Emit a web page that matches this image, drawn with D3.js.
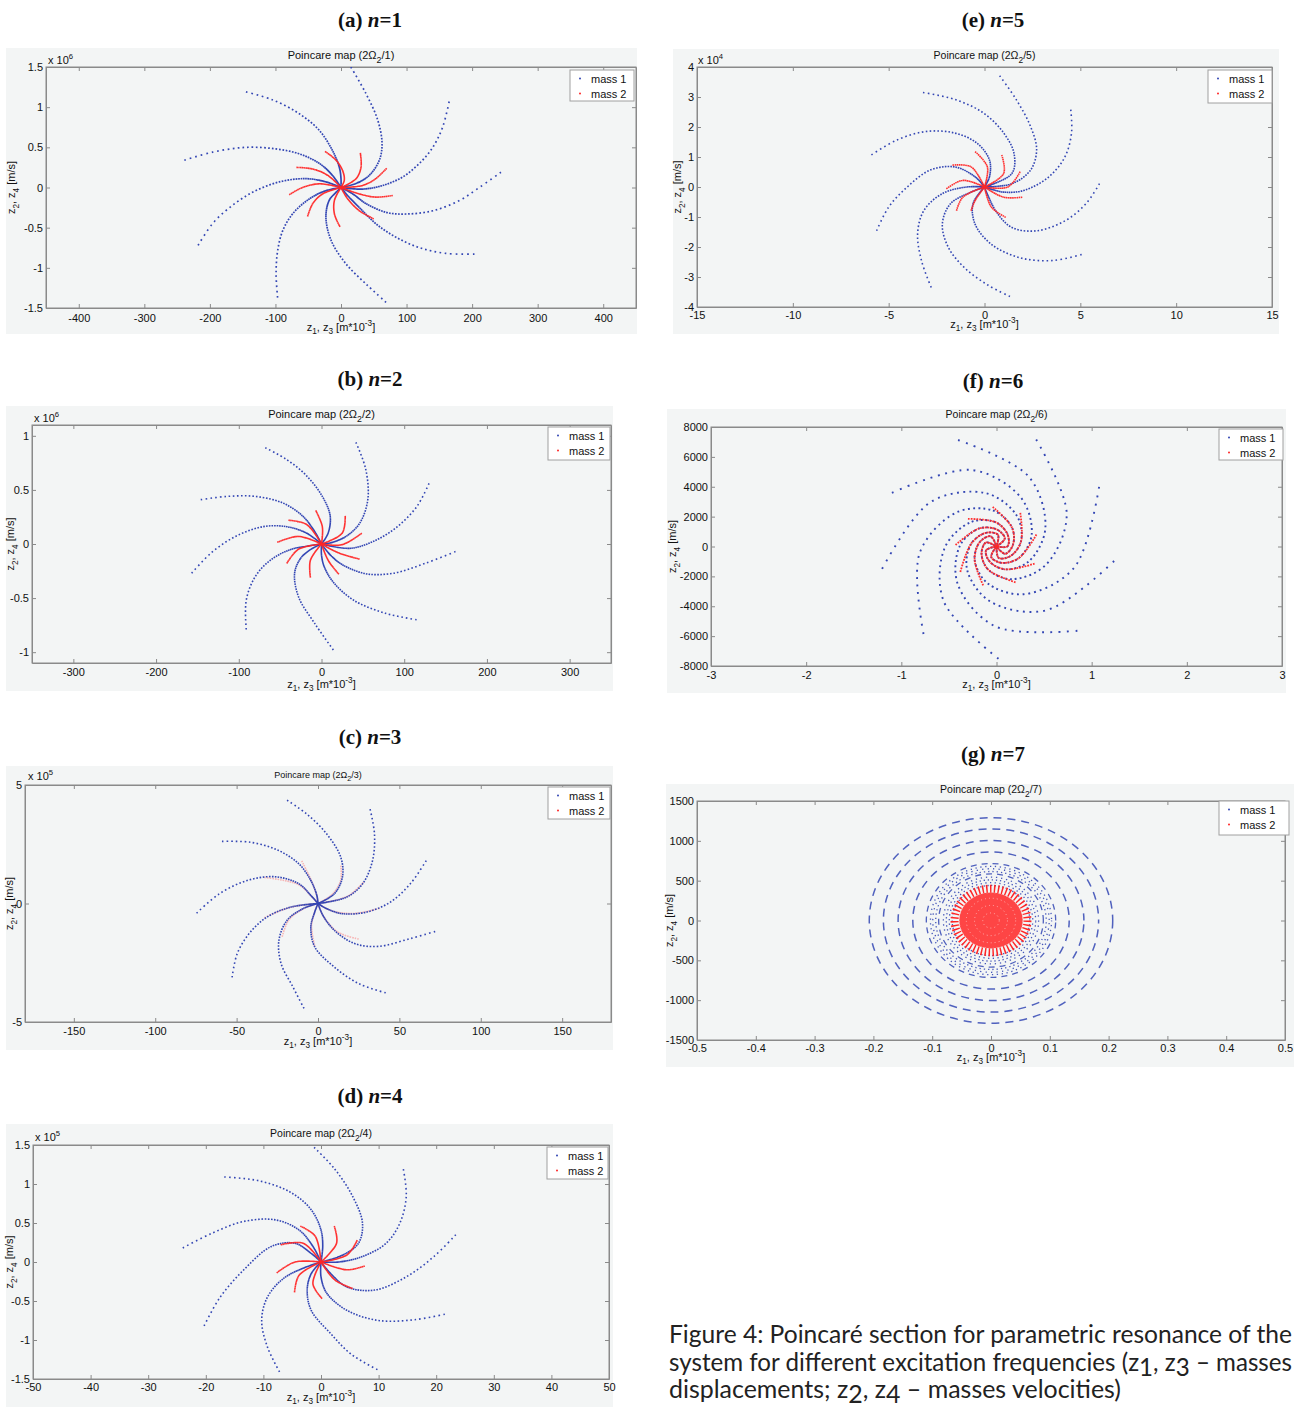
<!DOCTYPE html>
<html>
<head>
<meta charset="utf-8">
<script src="https://cdn.jsdelivr.net/npm/d3@7"></script>
<style>
body { margin: 0; background: #fff; }
</style>
</head>
<body>
<div id="chart"></div>
<script>
// ---- data (x in m*10^-3, y in m/s times the axis multiplier) ----
var legendNames = ["mass 1", "mass 2"];

// (a) n=1, y x 10^6
var ticksA_x = [-400, -300, -200, -100, 0, 100, 200, 300, 400];
var ticksA_y = [-1.5, -1, -0.5, 0, 0.5, 1, 1.5];
var armsA_mass1 = [
  [[15, 1.5], [38, 1.17], [56, 0.84], [62.6, 0.55], [58.5, 0.34], [43, 0.15], [23, 0.05], [0, 0]],
  [[165, 1.07], [155, 0.75], [140, 0.5], [119.6, 0.3], [94, 0.13], [63.6, 0.025], [33, -0.02], [0, 0]],
  [[244, 0.19], [211, 0], [181, -0.16], [140, -0.29], [99, -0.33], [69, -0.31], [38, -0.2], [18, -0.08], [0, 0]],
  [[203.6, -0.83], [160, -0.82], [120, -0.75], [84, -0.62], [53, -0.45], [28, -0.25], [10, -0.1], [0, 0]],
  [[68.7, -1.43], [38, -1.2], [7.6, -0.95], [-15, -0.66], [-23, -0.37], [-18, -0.16], [-7.6, -0.06], [0, 0]],
  [[-96.7, -1.37], [-99, -1.08], [-96.7, -0.79], [-89, -0.54], [-74, -0.33], [-48, -0.14], [-23, -0.04], [0, 0]],
  [[-218, -0.72], [-196, -0.45], [-170, -0.25], [-135, -0.06], [-94, 0.07], [-53, 0.11], [-23, 0.07], [0, 0]],
  [[-239, 0.34], [-196, 0.44], [-145, 0.5], [-99, 0.48], [-64, 0.42], [-33, 0.3], [-13, 0.15], [0, 0]],
  [[-145, 1.19], [-104, 1.09], [-64, 0.92], [-33, 0.71], [-13, 0.46], [-2.5, 0.25], [0, 0.11], [0, 0]]
];
var armsA_mass2 = [
  [[-24.4, 0.45], [-7.6, 0.34], [2.5, 0.21], [5, 0.09], [0, 0]],
  [[29.5, 0.43], [30.5, 0.25], [23, 0.11], [0, 0]],
  [[69.7, 0.24], [53, 0.11], [33, 0.025], [0, 0]],
  [[79, -0.1], [53, -0.12], [28, -0.08], [0, 0]],
  [[50, -0.39], [28, -0.29], [10, -0.14], [0, 0]],
  [[-1.5, -0.49], [-10, -0.33], [-10, -0.16], [0, 0]],
  [[-51, -0.36], [-43, -0.2], [-28, -0.08], [0, 0]],
  [[-79, -0.09], [-58.5, 0], [-33, 0.046], [0, 0]],
  [[-68, 0.25], [-43, 0.23], [-20, 0.15], [0, 0]]
];

// (b) n=2, y x 10^6
var ticksB_x = [-300, -200, -100, 0, 100, 200, 300];
var ticksB_y = [-1, -0.5, 0, 0.5, 1];
var armsB_mass1 = [
  [[41.6, 0.94], [53.5, 0.69], [56, 0.41], [46, 0.19], [29.6, 0.07], [13, 0.015], [0, 0]],
  [[130, 0.56], [115.6, 0.35], [91.7, 0.16], [63, 0.025], [34, -0.04], [0, 0]],
  [[162, -0.07], [125, -0.18], [87, -0.27], [53.5, -0.275], [25, -0.19], [10.5, -0.1], [0, 0]],
  [[115, -0.7], [77, -0.64], [39, -0.52], [15, -0.36], [3.3, -0.21], [0, -0.1], [0, 0]],
  [[14.3, -0.98], [-8.6, -0.73], [-27.7, -0.49], [-32.5, -0.27], [-25, -0.13], [-13, -0.05], [0, 0]],
  [[-91, -0.79], [-91, -0.52], [-80, -0.3], [-61, -0.145], [-37, -0.05], [-18, -0.02], [0, 0]],
  [[-157, -0.27], [-133, -0.08], [-104, 0.07], [-71, 0.16], [-42, 0.16], [-18, 0.1], [0, 0]],
  [[-146, 0.41], [-114, 0.44], [-80, 0.44], [-47, 0.38], [-23, 0.26], [-8.6, 0.12], [0, 0]],
  [[-68, 0.89], [-42, 0.78], [-18, 0.63], [1, 0.44], [10.5, 0.26], [8, 0.1], [0, 0]]
];
var armsB_mass2 = [
  [[28.7, 0.26], [25, 0.1], [0, 0]],
  [[48.7, 0.1], [25, -0.006], [0, 0]],
  [[46, -0.14], [20, -0.08], [0, 0]],
  [[21, -0.28], [8, -0.15], [0, 0]],
  [[-13.4, -0.31], [-13.4, -0.15], [0, 0]],
  [[-42, -0.18], [-28, -0.05], [0, 0]],
  [[-53.5, 0.015], [-28, 0.07], [0, 0]],
  [[-40, 0.22], [-18, 0.18], [0, 0]],
  [[-7, 0.31], [1, 0.16], [0, 0]]
];

// (c) n=3, y x 10^5
var ticksC_x = [-150, -100, -50, 0, 50, 100, 150];
var ticksC_y = [-5, 0, 5];
var armsC_mass1 = [
  [[-19, 4.36], [-6.8, 3.77], [5.4, 2.93], [14, 1.95], [15, 1.11], [10, 0.41], [0, 0]],
  [[32, 3.98], [34.7, 2.93], [33.5, 1.81], [27.4, 0.83], [17.6, 0.27], [0, 0]],
  [[66.5, 1.81], [56.7, 0.83], [44.5, 0.06], [30, -0.36], [15, -0.43], [5.4, -0.22], [0, 0]],
  [[72, -1.18], [56.7, -1.48], [37, -1.81], [22.5, -1.69], [10, -1.13], [3, -0.5], [0, 0]],
  [[41.6, -3.77], [25, -3.38], [10, -2.68], [-2, -1.83], [-4.4, -0.99], [-2, -0.36], [0, 0]],
  [[-8.6, -4.43], [-15.4, -3.52], [-22.7, -2.53], [-24, -1.55], [-19, -0.71], [-9.3, -0.22], [0, 0]],
  [[-52.8, -3.12], [-49.6, -2.11], [-42.3, -1.27], [-31.3, -0.57], [-16.6, -0.15], [0, 0]],
  [[-74.6, -0.41], [-60.6, 0.41], [-43.5, 0.97], [-26.4, 1.13], [-11.7, 0.83], [-4.4, 0.34], [0, 0]],
  [[-59, 2.62], [-41, 2.58], [-24, 2.23], [-11.7, 1.67], [-4.4, 0.97], [-0.7, 0.34], [0, 0]]
];
var armsC_mass2 = [
  [[14, 1.6], [14, 1.0], [9, 0.4], [0, 0]],
  [[28, 0.9], [18, 0.3], [0, 0]],
  [[38, -0.2], [22, -0.42], [8, -0.3], [0, 0]],
  [[25, -1.5], [12, -1.2], [3, -0.5], [0, 0]],
  [[-2, -1.8], [-4, -0.95], [-2, -0.35], [0, 0]],
  [[-22, -1.4], [-18, -0.7], [-9, -0.22], [0, 0]],
  [[-33, -0.6], [-17, -0.16], [0, 0]],
  [[-33, 1.1], [-12, 0.8], [-4, 0.3], [0, 0]],
  [[-10, 1.8], [-4, 0.95], [-0.7, 0.32], [0, 0]]
];

// (d) n=4, y x 10^5
var ticksD_x = [-50, -40, -30, -20, -10, 0, 10, 20, 30, 40, 50];
var ticksD_y = [-1.5, -1, -0.5, 0, 0.5, 1, 1.5];
var armsD_mass1 = [
  [[-1.2, 1.47], [2.4, 1.19], [5.5, 0.84], [7.2, 0.5], [6.5, 0.24], [3.8, 0.09], [0, 0]],
  [[14.3, 1.19], [14.8, 0.84], [13.7, 0.5], [11.3, 0.24], [7.2, 0.07], [3.1, 0], [0, 0]],
  [[23.4, 0.35], [19.6, 0.07], [14.8, -0.19], [9.3, -0.36], [4.5, -0.32], [1.7, -0.15], [0, 0]],
  [[21.5, -0.67], [16.2, -0.74], [10, -0.75], [4.5, -0.62], [1, -0.4], [0, -0.19], [0, 0]],
  [[9.8, -1.38], [5.2, -1.18], [1.7, -0.92], [-1.7, -0.62], [-2.4, -0.36], [-1.7, -0.15], [0, 0]],
  [[-7.2, -1.41], [-9.3, -1.09], [-10.3, -0.75], [-9.3, -0.45], [-6.5, -0.21], [-3.1, -0.08], [0, 0]],
  [[-20.3, -0.82], [-17.5, -0.45], [-13.4, -0.1], [-8.6, 0.2], [-4.5, 0.24], [-1.7, 0.11], [0, 0]],
  [[-24, 0.18], [-18.9, 0.37], [-13.4, 0.52], [-7.9, 0.54], [-3.8, 0.41], [-1.4, 0.2], [0, 0]],
  [[-16.8, 1.09], [-10.7, 1.04], [-5.2, 0.89], [-1.7, 0.67], [0, 0.41], [0.3, 0.2], [0, 0]]
];
var armsD_mass2 = [
  [[2.3, 0.46], [2.7, 0.24], [0, 0]],
  [[6.3, 0.28], [4.5, 0.09], [0, 0]],
  [[7.6, -0.05], [4.5, -0.1], [0, 0]],
  [[5.5, -0.34], [2.4, -0.23], [0, 0]],
  [[0.2, -0.47], [-1.4, -0.28], [0, 0]],
  [[-4.6, -0.39], [-3.8, -0.17], [0, 0]],
  [[-7.7, -0.14], [-4.5, 0], [0, 0]],
  [[-7, 0.22], [-3.1, 0.24], [0, 0]],
  [[-3.6, 0.46], [-1, 0.33], [0, 0]]
];

// (e) n=5, y x 10^4
var ticksE_x = [-15, -10, -5, 0, 5, 10, 15];
var ticksE_y = [-4, -3, -2, -1, 0, 1, 2, 3, 4];
var armsE_mass1 = [
  [[0.79, 3.71], [1.65, 2.92], [2.4, 2.02], [2.72, 1.24], [2.4, 0.56], [1.43, 0.11], [0, 0]],
  [[4.5, 2.58], [4.54, 1.8], [4.2, 1.01], [3.36, 0.34], [2.08, -0.11], [1.0, -0.17], [0, 0]],
  [[6.0, 0.11], [5.29, -0.56], [4.22, -1.12], [2.72, -1.46], [1.43, -1.35], [0.58, -0.79], [0, 0]],
  [[5.07, -2.25], [3.58, -2.45], [1.86, -2.36], [0.36, -1.91], [-0.49, -1.24], [-0.6, -0.56], [0, 0]],
  [[1.33, -3.65], [0.15, -3.26], [-1.03, -2.7], [-1.88, -2.02], [-2.2, -1.24], [-1.78, -0.56], [-0.7, -0.17], [0, 0]],
  [[-2.78, -3.35], [-3.28, -2.47], [-3.49, -1.57], [-3.17, -0.79], [-2.2, -0.22], [-0.92, 0], [0, 0]],
  [[-5.63, -1.46], [-5.0, -0.67], [-4.03, 0], [-2.85, 0.56], [-1.56, 0.67], [-0.49, 0.34], [0, 0]],
  [[-5.9, 1.07], [-4.56, 1.57], [-3.06, 1.85], [-1.56, 1.8], [-0.39, 1.46], [0.26, 0.9], [0.26, 0.34], [0, 0]],
  [[-3.21, 3.15], [-1.56, 2.92], [-0.06, 2.47], [1.0, 1.8], [1.54, 1.12], [1.43, 0.45], [0, 0]]
];
var armsE_mass2 = [
  [[-0.49, 1.18], [0.15, 0.67], [0, 0]],
  [[0.9, 1.07], [1.0, 0.45], [0, 0]],
  [[1.86, 0.51], [1.22, 0], [0, 0]],
  [[1.97, -0.34], [1.0, -0.34], [0, 0]],
  [[1.11, -1.01], [0.36, -0.67], [0, 0]],
  [[-0.7, -0.79], [-0.49, -0.45], [0, 0]],
  [[-1.46, -0.79], [-1.13, -0.34], [0, 0]],
  [[-1.99, -0.06], [-1.13, 0.22], [0, 0]],
  [[-1.67, 0.73], [-0.7, 0.67], [0, 0]]
];

// (f) n=6, y in m/s
var ticksF_x = [-3, -2, -1, 0, 1, 2, 3];
var ticksF_y = [-8000, -6000, -4000, -2000, 0, 2000, 4000, 6000, 8000];
var armsF_mass1 = [
  [[-0.404, 7130], [0.34, 4671], [0.513, 1200], [0.337, -1007], [0.087, -1526], [-0.073, -1000], [-0.11, -257], [0, 0]],
  [[0.417, 7168], [0.738, 2161], [0.517, -1235], [0.156, -2188], [-0.089, -1537], [-0.157, -456], [-0.111, 268], [0, 0]],
  [[1.078, 3993], [0.817, -1409], [0.288, -3195], [-0.101, -2423], [-0.23, -852], [-0.175, 302], [-0.062, 685], [0, 0]],
  [[1.236, -973], [0.521, -4275], [-0.07, -3664], [-0.309, -1544], [-0.264, 208], [-0.112, 913], [0.015, 785], [0, 0]],
  [[0.85, -5644], [-0.015, -5342], [-0.407, -2523], [-0.385, 40], [-0.182, 1208], [0.003, 1141], [0.087, 544], [0, 0]],
  [[0.021, -7517], [-0.554, -3678], [-0.542, -60], [-0.265, 1644], [-0.004, 1611], [0.118, 785], [0.116, 13], [0, 0]],
  [[-0.767, -5859], [-0.808, -450], [-0.423, 2275], [-0.032, 2396], [0.164, 1255], [0.172, 94], [0.091, -490], [0, 0]],
  [[-1.202, -1497], [-0.69, 2987], [-0.108, 3564], [0.215, 2047], [0.257, 322], [0.147, -638], [0.023, -765], [0, 0]],
  [[-1.099, 3597], [-0.259, 5121], [0.258, 3262], [0.369, 772], [0.235, -772], [0.055, -1094], [-0.055, -698], [0, 0]]
];
var armsF_mass2 = [
  [[0.4, -1150], [0.087, -1526], [-0.073, -1000], [-0.11, -257], [0, 0]],
  [[0.2, -2400], [-0.089, -1537], [-0.157, -456], [-0.111, 268], [0, 0]],
  [[-0.14, -2600], [-0.23, -852], [-0.175, 302], [-0.062, 685], [0, 0]],
  [[-0.38, -1700], [-0.264, 208], [-0.112, 913], [0.015, 785], [0, 0]],
  [[-0.43, 100], [-0.182, 1208], [0.003, 1141], [0.087, 544], [0, 0]],
  [[-0.3, 1850], [-0.004, 1611], [0.118, 785], [0.116, 13], [0, 0]],
  [[-0.04, 2650], [0.164, 1255], [0.172, 94], [0.091, -490], [0, 0]],
  [[0.25, 2250], [0.257, 322], [0.147, -638], [0.023, -765], [0, 0]],
  [[0.42, 800], [0.235, -772], [0.055, -1094], [-0.055, -698], [0, 0]]
];

// (g) n=7, y in m/s: dashed rings of mass 1, scattered band, red core of mass 2
var ticksG_x = [-0.5, -0.4, -0.3, -0.2, -0.1, 0, 0.1, 0.2, 0.3, 0.4, 0.5];
var ticksG_y = [-1500, -1000, -500, 0, 500, 1000, 1500];
var ringsG_rx = [0.207, 0.183, 0.158, 0.133, 0.11, 0.089];
var ringsG_ry = [1290, 1150, 1005, 860, 715, 585];
var scatterG_rx = [0.066, 0.071, 0.076, 0.081, 0.094, 0.099, 0.103];
var scatterG_ry = [440, 475, 510, 545, 615, 650, 680];
var coreG_rx = [0.014, 0.028, 0.042, 0.054, 0.062];
var coreG_ry = [95, 190, 280, 350, 400];

// ---- page ----
var W = 1302, H = 1407;
var svg = d3.select("#chart").append("svg").attr("width", W).attr("height", H)
  .style("font-family", "'Liberation Sans', Arial, sans-serif");

var BLUE = "#3346b4", RED = "#ff2626", BG = "#f3f5f5", AX = "#8a8a8a";

var panels = [
  { id: "a", tag: "(a) ", n: "1", mult: "6", bg: [6, 48, 637, 334], plot: [46, 67, 636, 308], xDomain: [-450, 450], yDomain: [-1.5, 1.5],
    xTicks: ticksA_x, yTicks: ticksA_y, m1: armsA_mass1, m2: armsA_mass2, tagPos: [370, 27], titleY: 59, titleSize: 11,
    multPos: [48, 64], legend: [570, 70, 64, 31], ylabX: 15, xlabY: 331, pad: 6,
    s1: { dot: 1.7, g0: -0.8, g1: 0.035, max: 4 }, s2: { dot: 1.6, g0: -0.3, g1: 0.012, max: 1 } },
  { id: "b", tag: "(b) ", n: "2", mult: "6", bg: [6, 406, 613, 691], plot: [32, 425, 611, 663], xDomain: [-350, 350], yDomain: [-1.1, 1.1],
    xTicks: ticksB_x, yTicks: ticksB_y, m1: armsB_mass1, m2: armsB_mass2, tagPos: [370, 386], titleY: 418, titleSize: 11,
    multPos: [34, 422], legend: [548, 427, 62, 33], ylabX: 14, xlabY: 688, pad: 5,
    s1: { dot: 1.6, g0: -0.7, g1: 0.032, max: 3.4 }, s2: { dot: 1.6, g0: -0.3, g1: 0.012, max: 1 } },
  { id: "c", tag: "(c) ", n: "3", mult: "5", bg: [6, 766, 613, 1050], plot: [25, 785, 611, 1022], xDomain: [-180, 180], yDomain: [-5, 5],
    xTicks: ticksC_x, yTicks: ticksC_y, m1: armsC_mass1, m2: armsC_mass2, tagPos: [370, 744], titleY: 778, titleSize: 9,
    multPos: [28, 780], legend: [548, 787, 62, 32], ylabX: 13, xlabY: 1045, pad: 5, faint: true,
    s1: { dot: 1.6, g0: -0.3, g1: 0.03, max: 4 }, s2: { dot: 1.6, g0: 0, g1: 0.02, max: 1.5 } },
  { id: "d", tag: "(d) ", n: "4", mult: "5", bg: [6, 1124, 613, 1407], plot: [33, 1145, 609, 1379], xDomain: [-50, 50], yDomain: [-1.5, 1.5],
    xTicks: ticksD_x, yTicks: ticksD_y, m1: armsD_mass1, m2: armsD_mass2, tagPos: [370, 1103], titleY: 1137, titleSize: 10.5,
    multPos: [35, 1141], legend: [547, 1147, 61, 32], ylabX: 13, xlabY: 1401, pad: 4,
    s1: { dot: 1.6, g0: -0.7, g1: 0.032, max: 3.4 }, s2: { dot: 1.6, g0: -0.3, g1: 0.012, max: 1 } },
  { id: "e", tag: "(e) ", n: "5", mult: "4", bg: [673, 49, 1279, 334], plot: [697, 67, 1272, 307], xDomain: [-15, 15], yDomain: [-4, 4],
    xTicks: ticksE_x, yTicks: ticksE_y, m1: armsE_mass1, m2: armsE_mass2, tagPos: [993, 27], titleY: 59, titleSize: 10.5,
    multPos: [698, 64], legend: [1208, 70, 64, 33], ylabX: 681, xlabY: 328, pad: 4,
    s1: { dot: 1.6, g0: -0.3, g1: 0.033, max: 4 }, s2: { dot: 1.6, g0: 0, g1: 0.015, max: 1.2 } },
  { id: "f", tag: "(f) ", n: "6", mult: null, bg: [667, 409, 1286, 693], plot: [711, 427, 1282, 666], xDomain: [-3, 3], yDomain: [-8000, 8000],
    xTicks: ticksF_x, yTicks: ticksF_y, m1: armsF_mass1, m2: armsF_mass2, tagPos: [993, 388], titleY: 418, titleSize: 10.5,
    legend: [1219, 429, 64, 31], ylabX: 676, xlabY: 688, pad: 5,
    s1: { dot: 1.9, g0: 1.0, g1: 0.05, max: 7 }, s2: { dot: 1.8, g0: 0.1, g1: 0.025, max: 1.6 } },
  { id: "g", tag: "(g) ", n: "7", mult: null, bg: [666, 784, 1294, 1067], plot: [697, 801, 1285, 1040], xDomain: [-0.5, 0.5], yDomain: [-1500, 1500],
    xTicks: ticksG_x, yTicks: ticksG_y, tagPos: [993, 761], titleY: 793, titleSize: 10.5,
    legend: [1219, 801, 70, 34], ylabX: 673, xlabY: 1061, pad: 4, rings: true }
];

// text with sub / superscript pieces: [string, "sub" | "sup" | null]
function richText(el, parts, size, shrink, drop) {
  var cur = 0;
  parts.forEach(function(p) {
    var off = p[1] === "sub" ? size * drop : p[1] === "sup" ? -size * 0.45 : 0;
    el.append("tspan").attr("dy", off - cur)
      .attr("font-size", p[1] ? size * shrink : size).text(p[0]);
    cur = off;
  });
  return el;
}

// dash pattern that turns the arm into dots, packed tighter near the centre
function dotDash(node, cx, cy, st) {
  var L = node.getTotalLength(), arr = [], s = 0;
  while (s < L) {
    var p = node.getPointAtLength(s);
    var r = Math.hypot(p.x - cx, p.y - cy);
    var gap = Math.max(0, Math.min(st.max, st.g0 + st.g1 * r));
    arr.push(st.dot, gap.toFixed(2));
    s += st.dot + gap;
  }
  return arr.join(" ");
}

function fmt(d) { return String(d); }

panels.forEach(function(p) {
  var g = svg.append("g");
  var x = d3.scaleLinear().domain(p.xDomain).range([p.plot[0], p.plot[2]]);
  var y = d3.scaleLinear().domain(p.yDomain).range([p.plot[3], p.plot[1]]);
  var cx = x(0), cy = y(0);

  g.append("rect").attr("x", p.bg[0]).attr("y", p.bg[1])
    .attr("width", p.bg[2] - p.bg[0]).attr("height", p.bg[3] - p.bg[1]).attr("fill", BG);

  // panel caption "(a) n=1"
  var tg = g.append("text").attr("x", p.tagPos[0]).attr("y", p.tagPos[1]).attr("text-anchor", "middle")
    .attr("font-family", "'Liberation Serif', 'Times New Roman', serif").attr("font-weight", "bold").attr("font-size", 21)
    .attr("fill", "#111");
  tg.append("tspan").text(p.tag);
  tg.append("tspan").attr("font-style", "italic").text("n");
  tg.append("tspan").text("=" + p.n);

  // axes, MATLAB style ticks inward on all four sides
  var xb = g.append("g").attr("transform", "translate(0," + p.plot[3] + ")")
    .call(d3.axisBottom(x).tickValues(p.xTicks).tickFormat(fmt).tickSizeInner(-4).tickSizeOuter(0).tickPadding(p.pad));
  var xt = g.append("g").attr("transform", "translate(0," + p.plot[1] + ")")
    .call(d3.axisTop(x).tickValues(p.xTicks).tickFormat("").tickSizeInner(-4).tickSizeOuter(0));
  var yl = g.append("g").attr("transform", "translate(" + p.plot[0] + ",0)")
    .call(d3.axisLeft(y).tickValues(p.yTicks).tickFormat(fmt).tickSizeInner(-4).tickSizeOuter(0).tickPadding(3));
  var yr = g.append("g").attr("transform", "translate(" + p.plot[2] + ",0)")
    .call(d3.axisRight(y).tickValues(p.yTicks).tickFormat("").tickSizeInner(-4).tickSizeOuter(0));
  [xb, xt, yl, yr].forEach(function(a) {
    a.attr("font-family", null).attr("font-size", 11);
    a.selectAll("path, line").attr("stroke", AX);
    a.selectAll("text").attr("fill", "#111");
  });
  g.append("rect").attr("x", p.plot[0]).attr("y", p.plot[1])
    .attr("width", p.plot[2] - p.plot[0]).attr("height", p.plot[3] - p.plot[1])
    .attr("fill", "none").attr("stroke", AX).attr("stroke-width", 1);

  // clip for marks
  g.append("clipPath").attr("id", "clip-" + p.id).append("rect")
    .attr("x", p.plot[0]).attr("y", p.plot[1])
    .attr("width", p.plot[2] - p.plot[0]).attr("height", p.plot[3] - p.plot[1]);
  var marks = g.append("g").attr("clip-path", "url(#clip-" + p.id + ")");

  if (p.rings) {
    // mass 1: dashed rings and scattered band
    marks.selectAll(".ring").data(d3.zip(ringsG_rx, ringsG_ry)).enter().append("ellipse")
      .attr("cx", cx).attr("cy", cy)
      .attr("rx", function(d) { return x(d[0]) - cx; })
      .attr("ry", function(d) { return cy - y(d[1]); })
      .attr("fill", "none").attr("stroke", BLUE).attr("stroke-opacity", 0.85)
      .attr("stroke-width", function(d, i) { return i < 4 ? 1.5 : 1.3; })
      .attr("stroke-dasharray", function(d, i) { return i < 4 ? "8 6" : "6 5"; })
      .attr("stroke-dashoffset", function(d, i) { return i * 5; });
    marks.selectAll(".band").data(d3.zip(scatterG_rx, scatterG_ry)).enter().append("ellipse")
      .attr("cx", cx).attr("cy", cy)
      .attr("rx", function(d) { return x(d[0]) - cx; })
      .attr("ry", function(d) { return cy - y(d[1]); })
      .attr("fill", "none").attr("stroke", BLUE).attr("stroke-width", 1.3).attr("stroke-opacity", 0.9)
      .attr("stroke-dasharray", function(d, i) { return ["1.3 2.4", "1.3 3.4", "1.3 2.8", "1.3 3.8", "1.3 3", "1.3 4.2", "1.3 3.6"][i]; })
      .attr("stroke-dashoffset", function(d, i) { return i * 1.7; });
    // mass 2: dense core with spiky rim
    var last = coreG_rx.length - 1;
    marks.append("ellipse").attr("cx", cx).attr("cy", cy)
      .attr("rx", x(coreG_rx[last - 1]) - cx).attr("ry", cy - y(coreG_ry[last - 1]))
      .attr("fill", RED).attr("fill-opacity", 0.85);
    marks.selectAll(".core").data(d3.zip(coreG_rx, coreG_ry)).enter().append("ellipse")
      .attr("cx", cx).attr("cy", cy)
      .attr("rx", function(d) { return x(d[0]) - cx; })
      .attr("ry", function(d) { return cy - y(d[1]); })
      .attr("fill", "none")
      .attr("stroke", function(d, i) { return i === last ? RED : "#ffb0b0"; })
      .attr("stroke-width", function(d, i) { return i === last ? 8 : 1; })
      .attr("stroke-dasharray", function(d, i) { return i === last ? "1.5 2.4" : "1 3"; });
  } else {
    var line = d3.line().x(function(d) { return x(d[0]); }).y(function(d) { return y(d[1]); })
      .curve(d3.curveCatmullRom.alpha(0.5));
    var b = marks.selectAll(".m1").data(p.m1).enter().append("path")
      .attr("d", line).attr("fill", "none").attr("stroke", BLUE).attr("stroke-width", p.s1.dot);
    b.attr("stroke-dasharray", function() { return dotDash(this, cx, cy, p.s1); });
    var r = marks.selectAll(".m2").data(p.m2).enter().append("path")
      .attr("d", line).attr("fill", "none").attr("stroke", RED).attr("stroke-width", p.s2.dot)
      .attr("stroke-opacity", p.faint ? 0.3 : 0.95);
    r.attr("stroke-dasharray", function() { return dotDash(this, cx, cy, p.s2); });
    if (p.faint) r.lower();
  }

  // title
  richText(g.append("text").attr("x", (p.plot[0] + p.plot[2]) / 2).attr("y", p.titleY)
    .attr("text-anchor", "middle").attr("fill", "#111"),
    [["Poincare map (2\u03a9", null], ["2", "sub"], ["/" + p.n + ")", null]], p.titleSize, 0.8, 0.35);

  // multiplier
  if (p.mult) {
    richText(g.append("text").attr("x", p.multPos[0]).attr("y", p.multPos[1]).attr("fill", "#111"),
      [["x 10", null], [p.mult, "sup"]], 11, 0.7, 0.3);
  }

  // axis labels
  var ym = (p.plot[1] + p.plot[3]) / 2;
  richText(g.append("text").attr("transform", "translate(" + p.ylabX + "," + ym + ") rotate(-90)")
    .attr("text-anchor", "middle").attr("fill", "#111"),
    [["z", null], ["2", "sub"], [", z", null], ["4", "sub"], [" [m/s]", null]], 11, 0.75, 0.35);
  richText(g.append("text").attr("x", (p.plot[0] + p.plot[2]) / 2).attr("y", p.xlabY)
    .attr("text-anchor", "middle").attr("fill", "#111"),
    [["z", null], ["1", "sub"], [", z", null], ["3", "sub"], [" [m*10", null], ["-3", "sup"], ["]", null]], 11, 0.75, 0.3);

  // legend
  var L = p.legend;
  var lg = g.append("g").attr("transform", "translate(" + L[0] + "," + L[1] + ")");
  lg.append("rect").attr("width", L[2]).attr("height", L[3]).attr("fill", "#fff").attr("stroke", "#a0a0a0");
  lg.selectAll(".item").data(legendNames).enter().append("g")
    .attr("transform", function(d, i) { return "translate(0," + (8.5 + i * 15) + ")"; })
    .each(function(d, i) {
      var it = d3.select(this);
      it.append("circle").attr("cx", 10).attr("cy", 0).attr("r", 1).attr("fill", i ? RED : BLUE);
      it.append("text").attr("x", 21).attr("y", 4).attr("font-size", 11).attr("fill", "#111").text(d);
    });
});

// figure caption
var capLines = [
  { y: 1343, len: 623, parts: [["Figure 4: Poincar\u00e9 section for parametric resonance of the", null]] },
  { y: 1371, len: 623, parts: [["system for different excitation frequencies (z", null], ["1", "sub"], [", z", null], ["3", "sub"], [" \u2013 masses", null]] },
  { y: 1398, len: 452, parts: [["displacements; z", null], ["2", "sub"], [", z", null], ["4", "sub"], [" \u2013 masses velocities)", null]] }
];
capLines.forEach(function(c) {
  var t = svg.append("text").attr("x", 669).attr("y", c.y)
    .attr("font-family", "Lato, 'Open Sans', sans-serif").attr("fill", "#222")
    .attr("textLength", c.len).attr("lengthAdjust", "spacingAndGlyphs");
  richText(t, c.parts, 25, 1, 0.18);
});
</script>
</body>
</html>
